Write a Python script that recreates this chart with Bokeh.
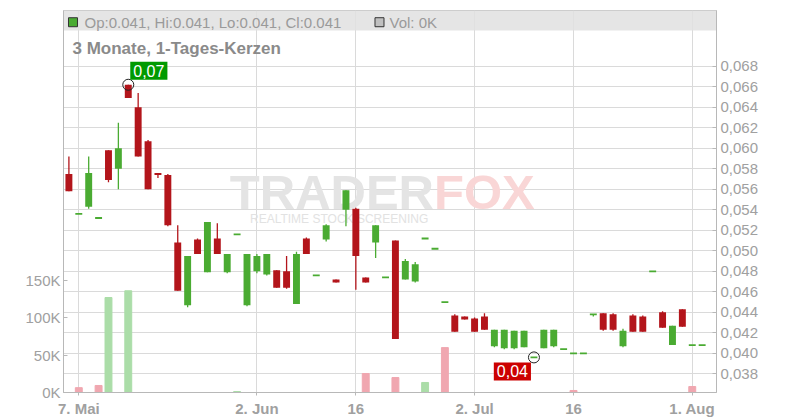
import pandas as pd
from bokeh.plotting import figure
from bokeh.models import Range1d, LinearAxis, FixedTicker, BoxAnnotation, Label, ColumnDataSource
from bokeh.core.properties import value
from bokeh.embed import file_html
from bokeh.resources import INLINE

# ---------------- data ----------------
dates = pd.bdate_range("2025-05-06", "2025-08-04")  # trading days shown (65)

opens = [0.0575, 0.0536, 0.0543, 0.0532, 0.0598, 0.0580, 0.0662, 0.0640, 0.0607, 0.0576,
         0.0574, 0.0508, 0.0447, 0.0511, 0.0479, 0.0512, 0.0479, 0.0516, 0.0447, 0.0480,
         0.0477, 0.0481, 0.0480, 0.0448, 0.0512, 0.0476, 0.0511, 0.0472, 0.0540, 0.0541,
         0.0474, 0.0508, 0.0474, 0.0510, 0.0472, 0.0470, 0.0512, 0.0502, 0.0450, 0.0437,
         0.0436, 0.0434, 0.0436, 0.0407, 0.0405, 0.0405, 0.0406, 0.0396, 0.0405, 0.0407,
         0.0404, 0.0400, 0.0400, 0.0438, 0.0439, 0.0438, 0.0407, 0.0437, 0.0436, 0.0480,
         0.0440, 0.0408, 0.0443, 0.0408, 0.0408]
highs = [0.0592, 0.0536, 0.0592, 0.0532, 0.0598, 0.0625, 0.0662, 0.0654, 0.0608, 0.0576,
         0.0575, 0.0525, 0.0495, 0.0512, 0.0528, 0.0527, 0.0497, 0.0516, 0.0497, 0.0497,
         0.0497, 0.0481, 0.0495, 0.0499, 0.0513, 0.0476, 0.0526, 0.0472, 0.0559, 0.0542,
         0.0474, 0.0525, 0.0474, 0.0510, 0.0492, 0.0489, 0.0512, 0.0502, 0.0450, 0.0438,
         0.0436, 0.0435, 0.0439, 0.0423, 0.0423, 0.0422, 0.0422, 0.0396, 0.0423, 0.0423,
         0.0404, 0.0400, 0.0400, 0.0438, 0.0439, 0.0439, 0.0424, 0.0438, 0.0437, 0.0480,
         0.0441, 0.0427, 0.0443, 0.0408, 0.0408]
lows = [0.0558, 0.0536, 0.0541, 0.0532, 0.0567, 0.0560, 0.0649, 0.0592, 0.0560, 0.0571,
        0.0524, 0.0461, 0.0445, 0.0497, 0.0479, 0.0497, 0.0478, 0.0516, 0.0446, 0.0478,
        0.0476, 0.0464, 0.0463, 0.0448, 0.0497, 0.0476, 0.0509, 0.0469, 0.0524, 0.0462,
        0.0469, 0.0493, 0.0474, 0.0414, 0.0472, 0.0469, 0.0512, 0.0502, 0.0450, 0.0421,
        0.0433, 0.0421, 0.0423, 0.0406, 0.0404, 0.0404, 0.0406, 0.0396, 0.0405, 0.0406,
        0.0404, 0.0400, 0.0400, 0.0436, 0.0422, 0.0422, 0.0406, 0.0421, 0.0421, 0.0480,
        0.0425, 0.0408, 0.0426, 0.0408, 0.0408]
closes = [0.0558, 0.0536, 0.0576, 0.0532, 0.0569, 0.0600, 0.0649, 0.0592, 0.0560, 0.0574,
          0.0525, 0.0461, 0.0495, 0.0497, 0.0528, 0.0497, 0.0497, 0.0516, 0.0497, 0.0495,
          0.0497, 0.0464, 0.0464, 0.0497, 0.0497, 0.0476, 0.0525, 0.0469, 0.0559, 0.0495,
          0.0469, 0.0525, 0.0474, 0.0414, 0.0490, 0.0487, 0.0512, 0.0502, 0.0450, 0.0421,
          0.0433, 0.0421, 0.0423, 0.0423, 0.0423, 0.0422, 0.0422, 0.0396, 0.0423, 0.0423,
          0.0404, 0.0400, 0.0400, 0.0438, 0.0423, 0.0423, 0.0422, 0.0421, 0.0421, 0.0480,
          0.0425, 0.0427, 0.0426, 0.0408, 0.0408]
volumes = [0, 6500, 0, 9400, 127000, 0, 136000, 0, 0, 0,
           0, 0, 0, 0, 0, 0, 0, 1300, 0, 0,
           0, 0, 0, 0, 0, 0, 0, 0, 0, 0,
           25400, 0, 0, 20000, 0, 0, 13400, 0, 60000, 0,
           0, 0, 0, 0, 0, 0, 0, 0, 0, 0,
           0, 2700, 0, 0, 0, 0, 0, 0, 0, 0,
           0, 0, 0, 8000, 0]

price_ticks = [0.038, 0.040, 0.042, 0.044, 0.046, 0.048, 0.050, 0.052, 0.054,
               0.056, 0.058, 0.060, 0.062, 0.064, 0.066, 0.068]
volume_ticks = [0, 50000, 100000, 150000]
volume_tick_labels = ["0K", "50K", "100K", "150K"]
date_ticks = ["2025-05-07", "2025-06-02", "2025-06-16", "2025-07-02", "2025-07-16", "2025-08-01"]
date_tick_labels = ["7. Mai", "2. Jun", "16", "2. Jul", "16", "1. Aug"]

title_text = "3 Monate, 1-Tages-Kerzen"

# ---------------- styling ----------------
GREEN = "#4aab32"
RED = "#b3151b"
VGREEN = "#abdda8"
VRED = "#f0a7b0"
TXT = "#a0a0a0"
GRID = "#dadada"
AXIS = "#b8b8b8"
FONT = "Liberation Sans"

n = len(dates)
xs = list(range(n))
date_index = {d.strftime("%Y-%m-%d"): i for i, d in enumerate(dates)}
tick_pos = [date_index[d] for d in date_ticks]

up = [c >= o for o, c in zip(opens, closes)]
doji = [abs(c - o) < 1e-9 for o, c in zip(opens, closes)]
colors = [GREEN if u else RED for u in up]
vol_colors = [VGREEN if (i > 0 and closes[i] >= closes[i - 1]) else VRED for i in range(n)]

p = figure(width=800, height=420,
           x_range=Range1d(-0.546, 65.45),
           y_range=Range1d(0.036176, 0.073444),
           y_axis_location="right",
           output_backend="svg", toolbar_location=None,
           min_border_left=63, min_border_right=84, min_border_top=10, min_border_bottom=28)
p.extra_y_ranges = {"vol": Range1d(0, 510700)}
p.background_fill_color = "white"
p.border_fill_color = "white"
p.outline_line_color = "#c8c8c8"

# price axis (right)
ya = p.yaxis[0]
ya.ticker = FixedTicker(ticks=price_ticks)
ya.major_label_overrides = {t: f"{t:.3f}".replace(".", ",") for t in price_ticks}
ya.minor_tick_line_color = None
ya.major_tick_in = 4
ya.major_tick_out = 0
ya.major_label_standoff = 4
ya.axis_line_color = AXIS
ya.major_tick_line_color = AXIS
ya.major_label_text_color = TXT
ya.major_label_text_font = FONT
ya.major_label_text_font_size = "15px"

# volume axis (left)
va = LinearAxis(y_range_name="vol", ticker=FixedTicker(ticks=volume_ticks),
                major_label_overrides=dict(zip(volume_ticks, volume_tick_labels)))
va.minor_tick_line_color = None
va.major_tick_in = 4
va.major_tick_out = 0
va.major_label_standoff = 3
va.axis_line_color = AXIS
va.major_tick_line_color = AXIS
va.major_label_text_color = TXT
va.major_label_text_font = FONT
va.major_label_text_font_size = "15px"
p.add_layout(va, "left")

# x axis
xa = p.xaxis[0]
xa.ticker = FixedTicker(ticks=tick_pos)
xa.major_label_overrides = dict(zip(tick_pos, date_tick_labels))
xa.minor_tick_line_color = None
xa.major_tick_in = 0
xa.major_tick_out = 3
xa.major_label_standoff = 4
xa.axis_line_color = AXIS
xa.major_tick_line_color = AXIS
xa.major_label_text_color = TXT
xa.major_label_text_font = FONT
xa.major_label_text_font_size = "15px"
xa.major_label_text_font_style = "bold"

p.xgrid.grid_line_color = GRID
p.ygrid.grid_line_color = GRID

# header band (behind glyphs)
p.add_layout(BoxAnnotation(bottom=0.071493, fill_color="#e0e0e0", fill_alpha=0.85, line_color=None,
                           level="underlay"))

# watermark
p.text(x=[36.9], y=[0.0557], text=["TRADER"], text_align="right", text_baseline="middle",
       text_font=value(FONT), text_font_style="bold", text_font_size="49px", text_color="#e4e4e4")
p.text(x=[36.9], y=[0.0557], text=["FOX"], text_align="left", text_baseline="middle",
       text_font=value(FONT), text_font_style="bold", text_font_size="49px", text_color="#f9d6d6")
p.text(x=[18.3], y=[0.05315], text=["REALTIME STOCK SCREENING"], text_align="left", text_baseline="middle",
       text_font=value(FONT), text_font_size="12px", text_color="#e2e2e2")

# volume bars
vsrc = ColumnDataSource(dict(x=[x for x, v in zip(xs, volumes) if v > 0],
                             top=[v for v in volumes if v > 0],
                             color=[c for c, v in zip(vol_colors, volumes) if v > 0]))
p.vbar(x="x", top="top", bottom=0, width=0.7, color="color", y_range_name="vol", source=vsrc)

# candles
src = ColumnDataSource(dict(x=xs, o=opens, h=highs, l=lows, c=closes, color=colors))
p.segment(x0="x", y0="l", x1="x", y1="h", color="color", line_width=1.3, source=src)
bsrc = ColumnDataSource(dict(x=[x for x, d in zip(xs, doji) if not d],
                             top=[max(o, c) for o, c, d in zip(opens, closes, doji) if not d],
                             bot=[min(o, c) for o, c, d in zip(opens, closes, doji) if not d],
                             color=[col for col, d in zip(colors, doji) if not d]))
p.vbar(x="x", top="top", bottom="bot", width=0.7, fill_color="color", line_color=None, source=bsrc)
dsrc = ColumnDataSource(dict(x0=[x - 0.35 for x, d in zip(xs, doji) if d],
                             x1=[x + 0.35 for x, d in zip(xs, doji) if d],
                             y=[c for c, d in zip(closes, doji) if d]))
p.segment(x0="x0", y0="y", x1="x1", y1="y", color=GREEN, line_width=1.8, source=dsrc)

# high / low markers
i_hi = max(range(n), key=lambda i: highs[i])
i_lo = min(range(n), key=lambda i: lows[i])
p.scatter([i_hi, i_lo], [highs[i_hi], lows[i_lo]], marker="circle", size=11,
          fill_color=None, line_color="#222222", line_width=1)
p.add_layout(Label(x=i_hi, y=highs[i_hi], x_offset=2, y_offset=5, text=f"{highs[i_hi]:.2f}".replace(".", ","),
                   text_align="left", text_baseline="bottom", text_color="white",
                   text_font=FONT, text_font_size="16px", background_fill_color="#009a00", padding=3))
p.add_layout(Label(x=i_lo, y=lows[i_lo], x_offset=-3, y_offset=-5, text=f"{lows[i_lo]:.2f}".replace(".", ","),
                   text_align="right", text_baseline="top", text_color="white",
                   text_font=FONT, text_font_size="16px", background_fill_color="#cc0000", padding=3))

# header contents
p.scatter([0.414], [0.0723], marker="square", size=9, fill_color=GREEN, line_color="#333333", line_width=1)
p.scatter([31.39], [0.0723], marker="square", size=9, fill_color="#c0c0c0", line_color="#333333", line_width=1)
hdr = (f"Op:{opens[-1]:.3f}, Hi:{highs[-1]:.3f}, Lo:{lows[-1]:.3f}, Cl:{closes[-1]:.3f}")
p.add_layout(Label(x=1.577, y=0.0723, text=hdr, text_baseline="middle", text_align="left",
                   text_color="#9a9a9a", text_font=FONT, text_font_size="15px"))
p.add_layout(Label(x=32.4, y=0.0723, text=f"Vol: {volumes[-1] / 1000:.0f}K", text_baseline="middle",
                   text_align="left", text_color="#9a9a9a", text_font=FONT, text_font_size="15px"))
p.add_layout(Label(x=0.364, y=0.06978, text=title_text, text_baseline="middle", text_align="left",
                   text_color="#8a8a8a", text_font=FONT, text_font_size="17px", text_font_style="bold"))

open("out.html", "w").write(file_html(p, INLINE))
